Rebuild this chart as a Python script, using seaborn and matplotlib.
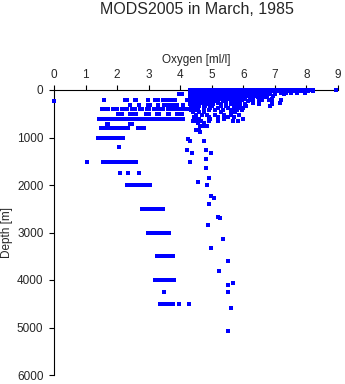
import matplotlib
matplotlib.use("Agg")
import matplotlib.pyplot as plt
import seaborn as sns
import pandas as pd

# ---- Upper ocean (dense surface layer), one list of oxygen values per depth row
surface_depths = [0, 30, 60, 90, 120, 150, 180, 210, 240]
surface_oxygen = [
    [4.3, 4.4, 4.5, 4.6, 4.7, 4.8, 4.9, 5.0, 5.1, 5.2, 5.3, 5.4, 5.5, 5.6, 5.7, 5.8, 5.9, 6.0, 6.1, 6.2,
     6.3, 6.4, 6.5, 6.6, 6.7, 6.8, 6.9, 7.0, 7.1, 7.2, 7.3, 7.4, 7.5, 7.6, 7.7, 7.8, 7.9, 8.0, 8.1, 8.2, 8.95],
    [4.3, 4.4, 4.5, 4.6, 4.7, 4.8, 4.9, 5.0, 5.1, 5.2, 5.3, 5.4, 5.5, 5.6, 5.7, 5.8, 5.9, 6.0, 6.1, 6.2,
     6.3, 6.4, 6.5, 6.6, 6.7, 6.8, 6.9, 7.0, 7.1, 7.2, 7.3, 7.45, 7.6, 7.75, 7.9, 8.05, 8.2],
    [4.3, 4.4, 4.5, 4.6, 4.7, 4.8, 4.9, 5.0, 5.1, 5.2, 5.3, 5.4, 5.5, 5.6, 5.7, 5.8, 5.9, 6.0, 6.1, 6.2,
     6.3, 6.4, 6.5, 6.6, 6.7, 6.85, 7.0, 7.2, 7.35, 7.5, 7.7, 7.95],
    [3.95, 4.05, 4.3, 4.4, 4.5, 4.6, 4.7, 4.8, 4.9, 5.0, 5.1, 5.2, 5.3, 5.4, 5.5, 5.6, 5.7, 5.8, 5.9, 6.0,
     6.1, 6.2, 6.35, 6.5, 6.65, 6.8, 7.0, 7.3],
    [4.3, 4.4, 4.5, 4.6, 4.7, 4.8, 4.9, 5.0, 5.1, 5.2, 5.3, 5.4, 5.5, 5.6, 5.7, 5.8, 5.9, 6.0, 6.1, 6.2,
     6.35, 6.55, 6.75, 6.95],
    [4.3, 4.4, 4.5, 4.6, 4.7, 4.8, 4.9, 5.0, 5.1, 5.2, 5.3, 5.4, 5.5, 5.6, 5.7, 5.8, 5.9, 6.05, 6.2, 6.45, 6.7],
    [4.3, 4.4, 4.5, 4.6, 4.7, 4.8, 4.9, 5.0, 5.1, 5.2, 5.3, 5.4, 5.5, 5.6, 5.8, 6.05, 6.3, 6.9],
    [3.6, 3.7, 3.85, 4.2, 4.3, 4.4, 4.5, 4.6, 4.7, 4.8, 4.9, 5.0, 5.1, 5.2, 5.45, 5.7, 5.95, 6.25, 6.6, 6.8, 7.2],
    [4.3, 4.4, 4.5, 4.6, 4.7, 4.8, 4.9, 5.0, 5.1, 5.35, 5.6, 5.85, 6.15, 6.5],
]

# ---- Mid-depth scatter of the oxygen-rich branch
mid_depths = [270, 300, 340, 380, 430, 470, 520, 570, 610, 650, 700, 760, 840, 885]
mid_oxygen = [
    [4.3, 4.4, 4.5, 4.6, 4.7, 4.8, 4.95, 5.2, 5.45, 5.6, 5.75, 5.9, 6.3, 6.9, 7.15],
    [4.3, 4.45, 4.6, 4.75, 4.9, 5.05, 5.3, 5.6, 5.8, 6.05, 6.5, 6.9],
    [4.35, 4.5, 4.6, 4.8, 5.0, 5.3, 5.45, 5.75, 5.9, 6.1, 6.84],
    [4.4, 4.55, 4.75, 4.95, 5.2, 5.5, 5.7, 5.85, 6.0],
    [4.35, 4.5, 4.9, 5.1, 5.35, 5.6, 5.8, 5.95],
    [4.4, 4.6, 4.75, 5.3, 5.6, 5.75],
    [4.5, 4.7, 4.85, 5.1, 5.4, 5.6, 5.85],
    [4.45, 4.9, 5.2, 5.5, 5.7],
    [4.5, 4.6, 4.95, 5.2, 5.4, 6.0],
    [4.4, 4.5, 4.65, 4.9, 5.2, 5.67, 5.83],
    [4.55, 4.75],
    [4.62, 4.72, 4.85],
    [4.5, 4.6],
    [4.62],
]

# ---- Low-oxygen branch: bands of readings at standard depths
band_depths = [230, 215, 316, 407, 512, 610, 715, 807, 1010, 1200, 1510, 1750, 2000, 2510, 3020,
               3500, 4010, 4260, 4500]
band_oxygen = [
    [0.0],
    [1.58, 2.25, 2.3, 2.56, 2.6, 2.97, 3.2, 3.3, 3.45, 3.55, 3.65, 3.75, 3.85],
    [2.4, 2.7, 2.97, 3.05, 3.3, 3.5, 3.6, 3.7, 3.8, 3.9, 4.1],
    [1.52, 1.58, 1.64, 1.7, 1.86, 1.92, 2.0, 2.16, 2.22, 2.3, 2.46, 2.52, 2.58, 2.74, 2.8,
     2.95, 3.02, 3.17, 3.24, 3.3, 3.38, 3.45, 3.62, 3.7, 3.78, 3.86, 4.0, 4.08, 4.16, 4.25],
    [2.03, 2.09, 2.15, 2.4, 2.5, 2.6, 2.9, 3.0, 3.25, 3.32, 3.6, 3.65, 3.9, 3.98, 4.05],
    [1.42, 1.5, 1.56, 1.62, 1.68, 1.74, 1.8, 1.86, 1.92, 1.98, 2.04, 2.09, 2.18, 2.24, 2.3, 2.36,
     2.42, 2.48, 2.54, 2.6, 2.66, 2.72, 2.78, 2.84, 2.94, 3.02, 3.1, 3.18, 3.26, 3.34, 3.42,
     3.5, 3.58, 3.66, 3.74, 3.82, 3.92, 4.0, 4.1],
    [1.67, 1.72, 2.42, 2.48],
    [1.5, 1.55, 1.6, 1.65, 1.7, 1.75, 1.8, 1.85, 1.9, 1.95, 2.0, 2.05, 2.1, 2.15, 2.2, 2.25, 2.3, 2.35,
     2.65, 2.7, 2.75, 2.8, 2.85],
    [1.4, 1.45, 1.5, 1.55, 1.6, 1.65, 1.7, 1.75, 1.8, 1.85, 1.9, 1.95, 2.0, 2.05, 2.1, 2.15, 2.18],
    [2.06],
    [1.05, 1.56, 1.61, 1.66, 1.71, 1.76, 1.81, 1.86, 1.91, 1.96, 2.01, 2.06, 2.11, 2.16, 2.21, 2.26,
     2.31, 2.36, 2.41, 2.46, 2.51, 2.56, 2.6],
    [2.1, 2.35, 2.7],
    [2.3, 2.35, 2.4, 2.45, 2.5, 2.55, 2.6, 2.65, 2.7, 2.75, 2.85, 2.9, 2.95, 3.05],
    [2.8, 2.85, 2.9, 2.95, 3.0, 3.05, 3.1, 3.15, 3.2, 3.25, 3.3, 3.38, 3.47],
    [2.98, 3.03, 3.08, 3.13, 3.18, 3.23, 3.28, 3.33, 3.38, 3.43, 3.48, 3.53, 3.65],
    [3.25, 3.3, 3.35, 3.4, 3.45, 3.5, 3.55, 3.6, 3.65, 3.7, 3.76],
    [3.2, 3.3, 3.35, 3.4, 3.45, 3.5, 3.55, 3.6, 3.65, 3.7, 3.75, 3.8],
    [3.5],
    [3.35, 3.4, 3.45, 3.5, 3.55, 3.6, 3.65, 3.7, 3.76, 3.96, 4.28],
]

# ---- Deep isolated readings of the oxygen-rich branch
deep_depth = [1030, 1070, 1075, 1260, 1260, 1320, 1320, 1450, 1510, 1650, 1860, 1930, 2010, 2240,
              2270, 2390, 2680, 2690, 2850, 3130, 3330, 3590, 3815, 4065, 4100, 4250, 4590, 5075]
deep_oxygen = [4.25, 4.3, 4.75, 4.2, 4.83, 4.36, 4.97, 4.82, 4.3, 4.82, 4.9, 4.57, 4.85, 4.97,
               5.06, 4.9, 5.2, 5.25, 4.88, 5.36, 4.97, 5.52, 5.22, 5.66, 5.52, 5.52, 5.62, 5.52]

x_ticks = [0, 1, 2, 3, 4, 5, 6, 7, 8, 9]
y_ticks = [0, 1000, 2000, 3000, 4000, 5000, 6000]

# ---- build table
rows = []
for depths, oxys in ((surface_depths, surface_oxygen), (mid_depths, mid_oxygen), (band_depths, band_oxygen)):
    for d, vals in zip(depths, oxys):
        for v in vals:
            rows.append((v, d))
for d, v in zip(deep_depth, deep_oxygen):
    rows.append((v, d))
df = pd.DataFrame(rows, columns=["oxygen", "depth"])

sns.set_style("ticks")
plt.rcParams["font.family"] = ["Liberation Sans", "DejaVu Sans"]

fig = plt.figure(figsize=(3.45, 3.84), dpi=100)
ax = fig.add_axes([54 / 345, 1 - 375 / 384, (338 - 54) / 345, (375 - 90) / 384])

sns.scatterplot(data=df, x="oxygen", y="depth", ax=ax, marker="s", s=6.5, color="#0000ff",
                linewidth=0, clip_on=False, zorder=5, antialiased=False)

ax.set_xlim(0, 9)
ax.set_ylim(6000, 0)
ax.xaxis.tick_top()
ax.xaxis.set_label_position("top")
ax.set_xticks(x_ticks)
ax.set_yticks(y_ticks)
ax.set_xlabel("Oxygen [ml/l]", fontsize=8.5, labelpad=4)
ax.set_ylabel("Depth [m]", fontsize=8.5, labelpad=3)
ax.tick_params(axis="both", direction="out", length=3.6, width=0.8, labelsize=8.5, color="black")
ax.tick_params(axis="x", pad=3)
ax.tick_params(axis="y", pad=4)
for s in ["right", "bottom"]:
    ax.spines[s].set_visible(False)
for s in ["top", "left"]:
    ax.spines[s].set_linewidth(0.8)
    ax.spines[s].set_color("black")
ax.grid(False)

fig.text(197 / 345, 1 - 9 / 384, "MODS2005 in March, 1985", ha="center", va="center", fontsize=11.5)

fig.savefig("out.png", dpi=100)
